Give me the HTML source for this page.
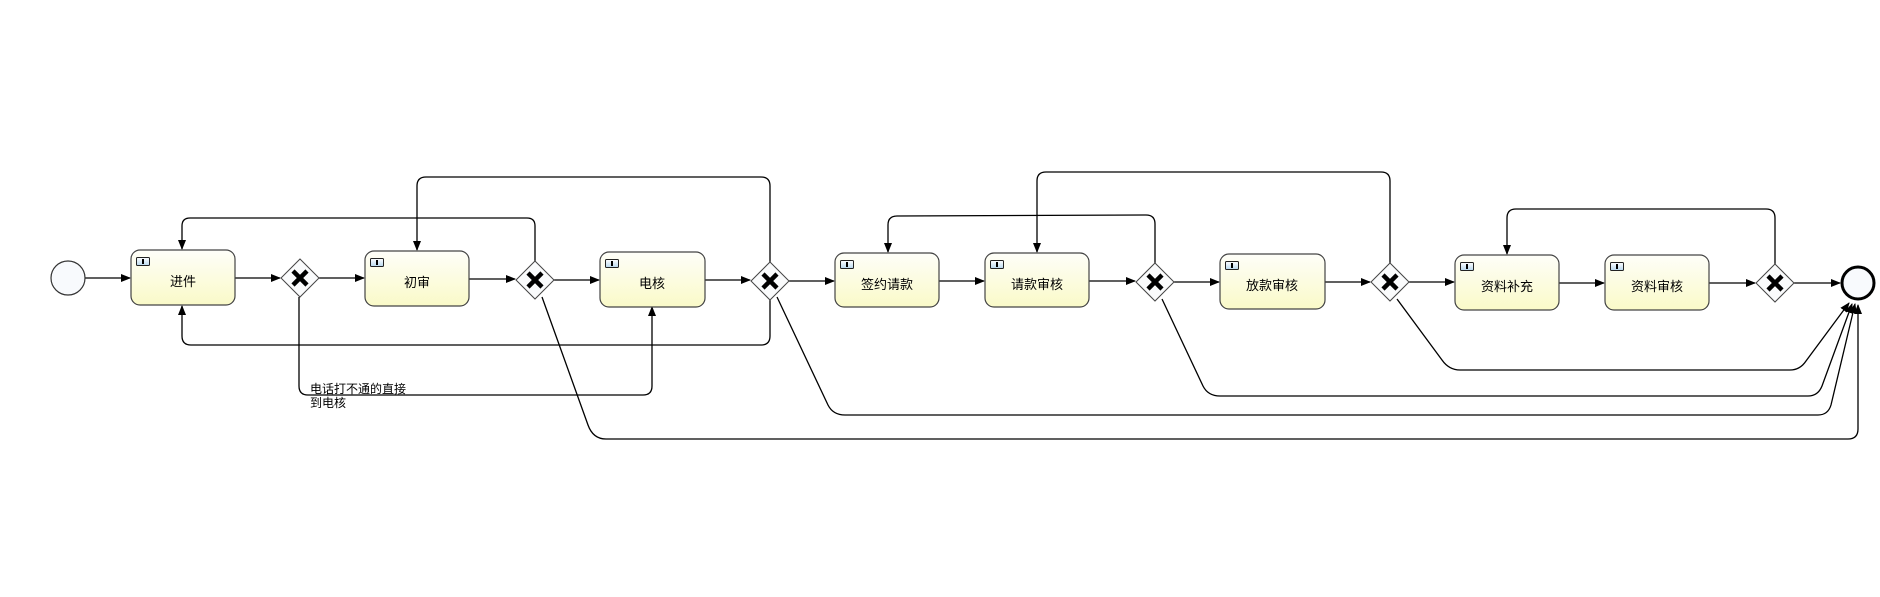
<!DOCTYPE html>
<html><head><meta charset="utf-8"><style>
html,body{margin:0;padding:0;background:#fff;}
svg{display:block;}
text{font-family:"Liberation Sans","Noto Sans CJK SC",sans-serif;}
</style></head><body>
<svg width="1880" height="597" viewBox="0 0 1880 597" xmlns="http://www.w3.org/2000/svg">
<defs>
<linearGradient id="tg" x1="0" y1="0" x2="0" y2="1"><stop offset="0" stop-color="#fefef9"/><stop offset="1" stop-color="#fafac8"/></linearGradient>
<linearGradient id="ig" x1="0" y1="0" x2="0" y2="1"><stop offset="0" stop-color="#ffffff"/><stop offset="1" stop-color="#b8d8ee"/></linearGradient>
<marker id="a" markerWidth="10" markerHeight="8" refX="9" refY="4" orient="auto" markerUnits="userSpaceOnUse"><path d="M0,0 L10,4 L0,8 z" fill="#000"/></marker>
<g id="gw"><path d="M0,-19 L19,0 L0,19 L-19,0 z" fill="#fafbfc" stroke="#444" stroke-width="1"/><path d="M-7,-7 L7,7 M7,-7 L-7,7" stroke="#000" stroke-width="4.5" stroke-linecap="butt"/></g>
</defs>
<g fill="none" stroke="#000" stroke-width="1.3">
<!-- main flow -->
<path d="M85,278 L130,278" marker-end="url(#a)"/>
<path d="M235,278 L280,278" marker-end="url(#a)"/>
<path d="M319,278 L364,278" marker-end="url(#a)"/>
<path d="M469,279 L515,279" marker-end="url(#a)"/>
<path d="M554,280 L599,280" marker-end="url(#a)"/>
<path d="M705,280 L750,280" marker-end="url(#a)"/>
<path d="M789,281 L834,281" marker-end="url(#a)"/>
<path d="M939,281 L984,281" marker-end="url(#a)"/>
<path d="M1089,281 L1135,281" marker-end="url(#a)"/>
<path d="M1174,282 L1219,282" marker-end="url(#a)"/>
<path d="M1325,282 L1370,282" marker-end="url(#a)"/>
<path d="M1409,282 L1454,282" marker-end="url(#a)"/>
<path d="M1559,283 L1604,283" marker-end="url(#a)"/>
<path d="M1709,283 L1755,283" marker-end="url(#a)"/>
<path d="M1794,283 L1840,283" marker-end="url(#a)"/>
<!-- loops top -->
<path d="M535,261 L535,226 Q535,218 527,218 L190,218 Q182,218 182,226 L182,249" marker-end="url(#a)"/>
<path d="M770,262 L770,186 Q770,177 761,177 L426,177 Q417,177 417,186 L417,250" marker-end="url(#a)"/>
<path d="M1155,263 L1155,224 Q1155,215 1146,215 L897,216 Q888,216 888,225 L888,252" marker-end="url(#a)"/>
<path d="M1390,263 L1390,181 Q1390,172 1381,172 L1046,172 Q1037,172 1037,181 L1037,252" marker-end="url(#a)"/>
<path d="M1775,264 L1775,218 Q1775,209 1766,209 L1516,209 Q1507,209 1507,218 L1507,254" marker-end="url(#a)"/>
<!-- bottom loops -->
<path d="M770,300 L770,336 Q770,345 761,345 L191,345 Q182,345 182,336 L182,306" marker-end="url(#a)"/>
<path d="M299,297 L299,386 Q299,395 308,395 L643,395 Q652,395 652,386 L652,307" marker-end="url(#a)"/>
<!-- to end -->
<path d="M1397,299 L1442,360 Q1449,370 1460,370 L1790,370 Q1800,370 1806,361 L1849,303" marker-end="url(#a)"/>
<path d="M1162,299 L1203,386 Q1208,396 1220,396 L1808,396 Q1818,396 1822,386 L1852,304" marker-end="url(#a)"/>
<path d="M777,297 L828,405 Q833,415 845,415 L1818,415 Q1828,415 1831,405 L1855,304" marker-end="url(#a)"/>
<path d="M542,297 L588,425 Q593,439 606,439 L1848,439 Q1858,439 1858,429 L1858,305" marker-end="url(#a)"/>
</g>
<!-- start / end -->
<circle cx="68" cy="278" r="17" fill="#f8fafd" stroke="#333" stroke-width="1.2"/>
<circle cx="1858" cy="283" r="16" fill="#f8fafd" stroke="#000" stroke-width="3"/>
<!-- gateways -->
<use href="#gw" x="300" y="278"/>
<use href="#gw" x="535" y="280"/>
<use href="#gw" x="770" y="281"/>
<use href="#gw" x="1155" y="282"/>
<use href="#gw" x="1390" y="282"/>
<use href="#gw" x="1775" y="283"/>
<!-- tasks -->
<g stroke="#444" stroke-width="1.2">
<rect x="131" y="250" width="104" height="55" rx="9" fill="url(#tg)"/>
<rect x="365" y="251" width="104" height="55" rx="9" fill="url(#tg)"/>
<rect x="600" y="252" width="105" height="55" rx="9" fill="url(#tg)"/>
<rect x="835" y="253" width="104" height="54" rx="9" fill="url(#tg)"/>
<rect x="985" y="253" width="104" height="54" rx="9" fill="url(#tg)"/>
<rect x="1220" y="254" width="105" height="55" rx="9" fill="url(#tg)"/>
<rect x="1455" y="255" width="104" height="55" rx="9" fill="url(#tg)"/>
<rect x="1605" y="255" width="104" height="55" rx="9" fill="url(#tg)"/>
</g>
<g stroke="#222" stroke-width="1">
<rect x="136.5" y="257.5" width="13" height="8" rx="1" fill="url(#ig)"/>
<rect x="370.5" y="258.5" width="13" height="8" rx="1" fill="url(#ig)"/>
<rect x="605.5" y="259.5" width="13" height="8" rx="1" fill="url(#ig)"/>
<rect x="840.5" y="260.5" width="13" height="8" rx="1" fill="url(#ig)"/>
<rect x="990.5" y="260.5" width="13" height="8" rx="1" fill="url(#ig)"/>
<rect x="1225.5" y="261.5" width="13" height="8" rx="1" fill="url(#ig)"/>
<rect x="1460.5" y="262.5" width="13" height="8" rx="1" fill="url(#ig)"/>
<rect x="1610.5" y="262.5" width="13" height="8" rx="1" fill="url(#ig)"/>
</g>
<g fill="#000">
<rect x="142" y="259" width="2" height="5"/><rect x="376" y="260" width="2" height="5"/><rect x="611" y="261" width="2" height="5"/><rect x="846" y="262" width="2" height="5"/><rect x="996" y="262" width="2" height="5"/><rect x="1231" y="263" width="2" height="5"/><rect x="1466" y="264" width="2" height="5"/><rect x="1616" y="264" width="2" height="5"/>
</g>
<g font-size="13" text-anchor="middle" fill="#000">
<text x="183" y="286">进件</text>
<text x="417" y="287">初审</text>
<text x="652" y="288">电核</text>
<text x="887" y="289">签约请款</text>
<text x="1037" y="289">请款审核</text>
<text x="1272" y="290">放款审核</text>
<text x="1507" y="291">资料补充</text>
<text x="1657" y="291">资料审核</text>
</g>
<g font-size="12" fill="#000">
<text x="310" y="393">电话打不通的直接</text>
<text x="310" y="407">到电核</text>
</g>
</svg>
</body></html>
